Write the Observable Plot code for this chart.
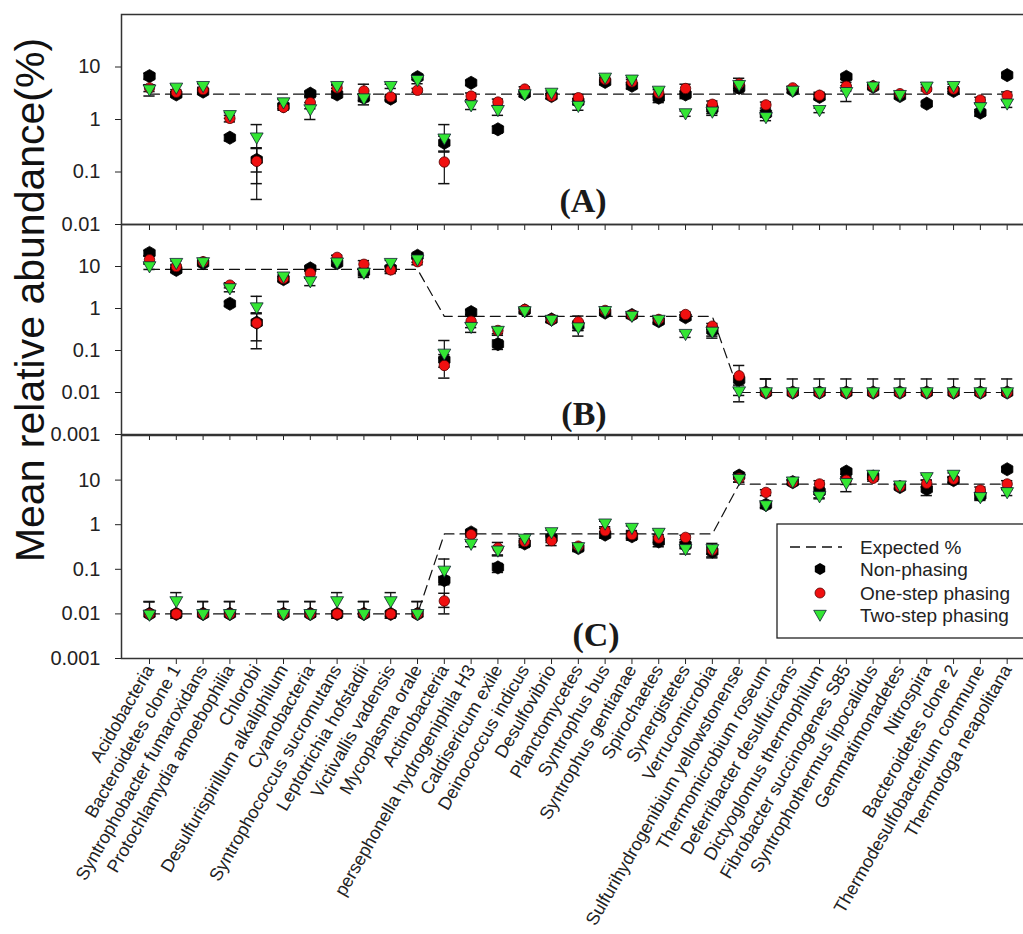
<!DOCTYPE html>
<html><head><meta charset="utf-8">
<script src="https://cdn.jsdelivr.net/npm/d3@7"></script>
<script src="https://cdn.jsdelivr.net/npm/@observablehq/plot@0.6"></script>
<style>
html,body{margin:0;padding:0;background:#fff;overflow:hidden}
#wrap{position:relative;width:1023px;height:934px;overflow:hidden;background:#fff;color:#222;font-family:"Liberation Sans",Arial,sans-serif}
#wrap > svg.panel{position:absolute;left:0}
#overlay{position:absolute;left:0;top:0;pointer-events:none}
</style></head>
<body><div id="wrap"></div>
<script>
const categories = ["Acidobacteria","Bacteroidetes clone 1","Syntrophobacter fumaroxidans","Protochlamydia amoebophilia","Chlorobi","Desulfurispirillum alkaliphilum","Cyanobacteria","Syntrophococcus sucromutans","Leptotrichia hofstadii","Victivallis vadensis","Mycoplasma orale","Actinobacteria","persephonella hydrogeniphila H3","Caldisericum exile","Deinococcus indicus","Desulfovibrio","Planctomycetes","Syntrophus bus","Syntrophus gentianae","Spirochaetes","Synergistetes","Verrucomicrobia","Sulfurihydrogenibium yellowstonense","Thermomicrobium roseum","Deferribacter desulfuricans","Dictyoglomus thermophilum","Fibrobacter succinogenes S85","Syntrophothermus lipocalidus","Gemmatimonadetes","Nitrospira","Bacteroidetes clone 2","Thermodesulfobacterium commune","Thermotoga neapolitana"];

const seriesNames = ["Non-phasing","One-step phasing","Two-step phasing"];

// Panel A (even community)
const aExpected = [3.03,3.03,3.03,3.03,3.03,3.03,3.03,3.03,3.03,3.03,3.03,3.03,3.03,3.03,3.03,3.03,3.03,3.03,3.03,3.03,3.03,3.03,3.03,3.03,3.03,3.03,3.03,3.03,3.03,3.03,3.03,3.03,3.03];
const aNon  = [6.7,3.0,3.4,0.45,0.17,1.8,3.1,3.0,2.6,2.5,6.4,0.36,5.0,0.65,3.1,2.8,2.2,5.2,4.4,2.6,3.0,1.6,4.0,1.3,3.6,2.7,6.5,4.2,2.8,2.0,3.5,1.35,7.0];
const aOne  = [4.0,3.3,3.7,1.05,0.16,1.7,2.1,4.0,3.5,2.7,3.6,0.155,2.8,2.15,3.8,2.8,2.6,5.8,5.2,3.2,3.9,1.95,4.8,1.9,4.0,2.9,4.3,4.3,3.1,3.8,3.8,2.35,2.85];
const aTwo  = [3.7,4.0,4.3,1.2,0.45,2.1,1.55,4.3,2.5,4.3,5.6,0.43,1.85,1.5,3.0,3.2,1.8,6.2,5.7,3.5,1.3,1.4,4.5,1.1,3.5,1.5,3.3,4.2,2.9,4.2,4.3,1.7,2.0];
const aNonSd = [0.9,0.3,0.3,0.06,0.11,0.2,0.3,0.4,0.4,0.2,0.6,0.12,0.5,0.1,0.3,0.3,0.3,0.6,0.6,0.5,0.5,0.3,0.8,0.2,0.3,0.3,0.6,0.3,0.3,0.15,0.4,0.2,0.5];
const aOneSd = [0.6,0.4,0.4,0.15,0.13,0.2,0.5,0.5,1.2,0.3,0.3,0.095,0.4,0.3,0.4,0.3,0.4,0.6,0.6,0.5,0.8,0.3,1.3,0.25,0.3,0.4,0.8,0.3,0.3,0.3,0.4,0.3,0.5];
const aTwoSd = [0.9,0.6,0.5,0.15,0.35,0.3,0.55,0.4,0.6,0.4,0.8,0.37,0.3,0.3,0.3,0.3,0.3,0.7,0.6,0.5,0.15,0.2,0.6,0.15,0.3,0.15,1.1,0.3,0.3,0.4,0.4,0.3,0.3];

// Panel B (staggered, high first)
const bExpected = [8.5,8.5,8.5,8.5,8.5,8.5,8.5,8.5,8.5,8.5,8.5,0.65,0.65,0.65,0.65,0.65,0.65,0.65,0.65,0.65,0.65,0.65,0.01,0.01,0.01,0.01,0.01,0.01,0.01,0.01,0.01,0.01,0.01];
const bNon  = [21,8.3,12,1.3,0.46,5.0,9.0,12,7.5,9,18,0.06,0.82,0.142,0.9,0.55,0.4,0.8,0.7,0.5,0.62,0.3,0.02,0.01,0.01,0.01,0.01,0.01,0.01,0.01,0.01,0.01,0.01];
const bOne  = [14.5,10,13,3.6,0.45,5.2,6.9,16.5,11.3,8.3,13,0.044,0.5,0.3,0.95,0.55,0.48,0.9,0.7,0.55,0.72,0.38,0.025,0.01,0.01,0.01,0.01,0.01,0.01,0.01,0.01,0.01,0.01];
const bTwo  = [10,12,12.5,3.0,1.05,5.7,4.4,12.3,7.0,12,14.5,0.083,0.36,0.29,0.85,0.53,0.35,0.86,0.66,0.53,0.245,0.277,0.0105,0.01,0.01,0.01,0.01,0.01,0.01,0.01,0.01,0.01,0.01];
const bNonSd = [3,1,1,0.15,0.29,0.6,1.0,1.5,1.5,1.5,2,0.02,0.1,0.036,0.1,0.07,0.1,0.1,0.08,0.08,0.08,0.08,0.005,0,0,0,0,0,0,0,0,0,0];
const bOneSd = [3,1.2,1,0.5,0.34,0.6,1.5,2,2.5,1.5,2,0.022,0.15,0.05,0.1,0.07,0.18,0.1,0.08,0.08,0.1,0.06,0.019,0.011,0,0,0,0,0,0,0,0,0];
const bTwoSd = [1.5,1.5,1,0.5,0.9,0.6,0.9,1.5,1.5,2,2,0.09,0.09,0.06,0.1,0.07,0.13,0.1,0.08,0.08,0.04,0.08,0.002,0.011,0.011,0.011,0.011,0.011,0.011,0.011,0.011,0.011,0.011];

// Panel C (staggered, low first)
const cExpected = [0.01,0.01,0.01,0.01,0.01,0.01,0.01,0.01,0.01,0.01,0.01,0.62,0.62,0.62,0.62,0.62,0.62,0.62,0.62,0.62,0.62,0.62,8.1,8.1,8.1,8.1,8.1,8.1,8.1,8.1,8.1,8.1,8.1];
const cNon  = [0.01,0.01,0.01,0.01,null,0.01,0.01,0.01,0.01,0.01,0.01,0.057,0.67,0.11,0.38,0.5,0.3,0.6,0.55,0.42,0.35,0.25,12.6,2.8,9,5.5,15.5,12,7,6.3,10,4.5,17.5];
const cOne  = [0.01,0.01,0.01,0.01,null,0.01,0.01,0.01,0.01,0.01,0.01,0.0195,0.6,0.3,0.42,0.44,0.33,0.73,0.6,0.5,0.52,0.27,11,5.3,9,8.2,10,11,7.2,8.5,10.5,6,8.2];
const cTwo  = [0.0095,0.019,0.0098,0.0098,null,0.0098,0.0098,0.019,0.0098,0.019,0.0098,0.092,0.37,0.26,0.48,0.67,0.31,1.05,0.84,0.65,0.28,0.28,10.5,2.7,9.2,4.3,8.5,13,7.5,11.5,13,4.1,5.3];
const cNonSd = [0.009,0,0.009,0.009,null,0.009,0.009,0,0.009,0,0.009,0.012,0.07,0.025,0.07,0.1,0.05,0.1,0.1,0.1,0.06,0.06,2,0.4,1,1.5,2,1.5,0.8,1.8,1.5,0.8,1.5];
const cOneSd = [0,0,0,0,null,0,0,0,0,0,0,0.0095,0.07,0.1,0.07,0.1,0.05,0.1,0.1,0.1,0.06,0.05,2,0.8,1,1.5,2,1.5,0.8,1.5,1.5,1,1.5];
const cTwoSd = [0.009,0.011,0.009,0.009,null,0.009,0.009,0.011,0.009,0.011,0.009,0.078,0.05,0.05,0.07,0.08,0.05,0.15,0.1,0.1,0.06,0.1,1.5,0.4,1,0.5,3,1.5,0.8,1.5,1.5,0.6,0.8];

const yTicksA = [10, 1, 0.1, 0.01];
const yTicksBC = [10, 1, 0.1, 0.01, 0.001];
const yTickLabels = {"10": "10", "1": "1", "0.1": "0.1", "0.01": "0.01", "0.001": "0.001"};

const colors = {"Non-phasing": "#000000", "One-step phasing": "#f01010", "Two-step phasing": "#33e633"};

const triDown = {
  draw(ctx, size) {
    const s = Math.sqrt(size / Math.PI);
    ctx.moveTo(-1.15 * s, -0.85 * s);
    ctx.lineTo(1.15 * s, -0.85 * s);
    ctx.lineTo(0, 1.15 * s);
    ctx.closePath();
  }
};

// lower whisker is drawn only when it stays on the log axis (mean - sd well above zero)
function seriesRows(values, sds) {
  return values.map((v, i) => {
    if (v == null) return null;
    const sd = sds[i] || 0;
    const lo = v - sd > v * 0.15 ? v - sd : v;
    return {cat: categories[i], v, lo, hi: v + sd};
  }).filter(d => d);
}

function panel({expected, non, one, two, nonSd, oneSd, twoSd, domain, ticks, top, height, marginTop, marginBottom, labels}) {
  const N = seriesRows(non, nonSd), O = seriesRows(one, oneSd), T = seriesRows(two, twoSd);
  const err = [...N, ...O, ...T].filter(d => d.hi > d.v || d.lo < d.v);
  const loErr = err.filter(d => d.lo < d.v);
  const exp = expected.map((v, i) => ({cat: categories[i], v}));
  const svg = Plot.plot({
    width: 1030, height, marginLeft: 121, marginRight: 0, marginTop, marginBottom,
    style: {background: "transparent", overflow: "visible", maxWidth: "none", fontFamily: "'Liberation Sans', Arial, sans-serif", color: "#222"},
    x: {type: "band", domain: categories, range: [143.37, 1012.3], paddingInner: 0.58, paddingOuter: 0, align: 0.5, round: false},
    y: {type: "log", domain},
    marks: [
      Plot.axisY({ticks, tickFormat: d => yTickLabels[String(d)], tickSize: 6, tickPadding: 15, fontSize: 20, label: null, stroke: "#222"}),
      labels
        ? Plot.axisX({tickSize: 6, tickPadding: 2, tickRotate: -60, fontSize: 18, label: null, stroke: "#222"})
        : Plot.axisX({tickSize: 6, tickFormat: () => "", label: null, stroke: "#222"}),
      Plot.line(exp, {x: "cat", y: "v", stroke: "#111", strokeWidth: 1.2, strokeDasharray: "10,6"}),
      Plot.ruleX(err, {x: "cat", y1: "lo", y2: "hi", stroke: "#111", strokeWidth: 1.2}),
      Plot.tickY(err.filter(d => d.hi > d.v), {x: "cat", y: "hi", stroke: "#111", strokeWidth: 1.5}),
      Plot.tickY(loErr, {x: "cat", y: "lo", stroke: "#111", strokeWidth: 1.5}),
      Plot.dot(N, {x: "cat", y: "v", symbol: "hexagon", r: 5.7, fill: colors["Non-phasing"], stroke: "#000", strokeWidth: 0.8}),
      Plot.dot(O, {x: "cat", y: "v", symbol: "circle", r: 5.2, fill: colors["One-step phasing"], stroke: "#500", strokeWidth: 0.8}),
      Plot.dot(T, {x: "cat", y: "v", symbol: triDown, r: 5.6, fill: colors["Two-step phasing"], stroke: "#123", strokeWidth: 0.8}),
      Plot.frame({stroke: "#333", strokeWidth: 1.5})
    ]
  });
  svg.classList.add("panel");
  svg.style.top = top + "px";
  return svg;
}

const wrap = document.getElementById("wrap");
wrap.appendChild(panel({expected: aExpected, non: aNon, one: aOne, two: aTwo, nonSd: aNonSd, oneSd: aOneSd, twoSd: aTwoSd,
  domain: [0.01, 100], ticks: yTicksA, top: 0, height: 240, marginTop: 14, marginBottom: 16, labels: false}));
wrap.appendChild(panel({expected: bExpected, non: bNon, one: bOne, two: bTwo, nonSd: bNonSd, oneSd: bOneSd, twoSd: bTwoSd,
  domain: [0.001, 100], ticks: yTicksBC, top: 210, height: 240, marginTop: 14, marginBottom: 16, labels: false}));
wrap.appendChild(panel({expected: cExpected, non: cNon, one: cOne, two: cTwo, nonSd: cNonSd, oneSd: cOneSd, twoSd: cTwoSd,
  domain: [0.001, 100], ticks: yTicksBC, top: 421, height: 513, marginTop: 14, marginBottom: 276, labels: true}));

// overlay: y title, panel labels, legend
const NS = "http://www.w3.org/2000/svg";
const ov = document.createElementNS(NS, "svg");
ov.setAttribute("id", "overlay");
ov.setAttribute("width", 1023); ov.setAttribute("height", 934);
function el(tag, attrs, text) {
  const e = document.createElementNS(NS, tag);
  for (const k in attrs) e.setAttribute(k, attrs[k]);
  if (text != null) e.textContent = text;
  ov.appendChild(e);
  return e;
}
el("text", {x: 44, y: 300, transform: "rotate(-90 44 300)", "text-anchor": "middle", "font-size": 41, fill: "#111", "font-family": "'Liberation Sans', Arial, sans-serif"}, "Mean relative abundance(%)");
const plab = {"font-family": "'Liberation Serif','Times New Roman',serif", "font-weight": "bold", "font-size": 34, "text-anchor": "middle", fill: "#1a1a1a"};
el("text", {...plab, x: 583, y: 212}, "(A)");
el("text", {...plab, x: 584, y: 425}, "(B)");
el("text", {...plab, x: 596, y: 646}, "(C)");
// legend
el("rect", {x: 777, y: 524, width: 270, height: 114, fill: "#fff", stroke: "#222", "stroke-width": 1.3});
el("line", {x1: 790, x2: 842, y1: 547, y2: 547, stroke: "#111", "stroke-width": 1.3, "stroke-dasharray": "10,6"});
const lt = {"font-size": 19, fill: "#222", "font-family": "'Liberation Sans', Arial, sans-serif"};
el("text", {...lt, x: 860, y: 554}, "Expected %");
const legY = [569, 593, 615];
seriesNames.forEach((name, i) => el("text", {...lt, x: 860, y: legY[i] + 7}, name));
const hx = 820;
const hexPts = d3.range(6).map(k => { const a = Math.PI / 6 + k * Math.PI / 3; return [hx + 6 * Math.cos(a), legY[0] + 6 * Math.sin(a)]; });
el("path", {d: "M" + hexPts.map(p => p.join(",")).join("L") + "Z", fill: "#000"});
el("circle", {cx: hx, cy: legY[1], r: 5, fill: colors["One-step phasing"], stroke: "#500", "stroke-width": 0.8});
el("path", {d: `M${hx-6.3},${legY[2]-4.7}L${hx+6.3},${legY[2]-4.7}L${hx},${legY[2]+6.3}Z`, fill: colors["Two-step phasing"], stroke: "#123", "stroke-width": 0.8});
wrap.appendChild(ov);
</script>
</body></html>
